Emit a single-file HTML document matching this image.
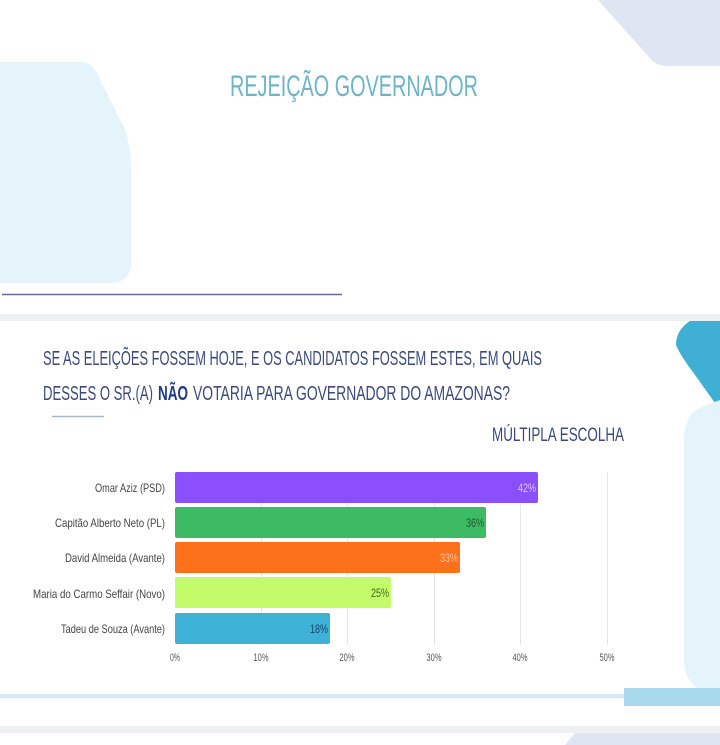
<!DOCTYPE html>
<html><head><meta charset="utf-8"><style>
html,body{margin:0;padding:0;background:#fff;}
svg{display:block;font-family:"Liberation Sans",sans-serif;}
</style></head><body>
<svg width="720" height="745" viewBox="0 0 720 745" xmlns="http://www.w3.org/2000/svg">
<rect width="720" height="745" fill="#fff"/>
<path d="M0 62 H80 Q92 62 98 75 L125 130 Q131 145 131 175 V262 Q131 283 110 283 H0 Z" fill="#e5f3fa"/>
<path d="M598 0 H720 V66 H668 Q655 66 648 56 Z" fill="#dfe5f2"/>
<text x="230" y="96" font-size="30" fill="#6eb4c9" textLength="248" lengthAdjust="spacingAndGlyphs" font-weight="300">REJEIÇÃO GOVERNADOR</text>
<line x1="2" y1="294.5" x2="342" y2="294.5" stroke="#5d6b98" stroke-width="1.5"/>
<rect x="0" y="314" width="720" height="7" fill="#eef0f2"/>
<path d="M690 321 H720 V410 L695 375 Q680 355 676 345 Q676 330 690 321 Z" fill="#3fb0d3"/>
<path d="M700 408 Q684 415 684 440 V660 Q684 680 700 690 H720 V400 Z" fill="#e5f3fa"/>
<text x="43" y="365" font-size="20" fill="#3b4a7c" textLength="499" lengthAdjust="spacingAndGlyphs">SE AS ELEIÇÕES FOSSEM HOJE, E OS CANDIDATOS FOSSEM ESTES, EM QUAIS</text>
<text x="43" y="400" font-size="20" fill="#3b4a7c" textLength="110" lengthAdjust="spacingAndGlyphs">DESSES O SR.(A)</text>
<text x="158" y="400" font-size="20" fill="#1f3a8a" font-weight="bold" textLength="30" lengthAdjust="spacingAndGlyphs">NÃO</text>
<text x="193" y="400" font-size="20" fill="#3b4a7c" textLength="317" lengthAdjust="spacingAndGlyphs">VOTARIA PARA GOVERNADOR DO AMAZONAS?</text>
<line x1="52" y1="416.5" x2="104" y2="416.5" stroke="#a9b8cc" stroke-width="1.5"/>
<text x="492" y="441" font-size="19" fill="#3b4a7c" textLength="132" lengthAdjust="spacingAndGlyphs">MÚLTIPLA ESCOLHA</text>
<g stroke="#e6e6e6" stroke-width="1">
<line x1="261.5" y1="472" x2="261.5" y2="645"/>
<line x1="347.5" y1="472" x2="347.5" y2="645"/>
<line x1="434.5" y1="472" x2="434.5" y2="645"/>
<line x1="520.5" y1="472" x2="520.5" y2="645"/>
<line x1="607.5" y1="472" x2="607.5" y2="645"/>
</g>
<rect x="175" y="472" width="363" height="31" rx="2" fill="#8b4fff"/>
<rect x="175" y="507" width="311" height="31" rx="2" fill="#3dba64"/>
<rect x="175" y="542" width="285" height="31" rx="2" fill="#fd711d"/>
<rect x="175" y="577" width="216" height="31" rx="2" fill="#c3fb6b"/>
<rect x="175" y="613" width="155" height="31" rx="2" fill="#3db2d6"/>
<g font-size="12" text-anchor="end">
<text x="536" y="492" fill="#d9c8ff" textLength="18" lengthAdjust="spacingAndGlyphs">42%</text>
<text x="484" y="527" fill="#1b5a2e" textLength="18" lengthAdjust="spacingAndGlyphs">36%</text>
<text x="458" y="562" fill="#ffc9a4" textLength="18" lengthAdjust="spacingAndGlyphs">33%</text>
<text x="389" y="597" fill="#3d6a14" textLength="18" lengthAdjust="spacingAndGlyphs">25%</text>
<text x="328" y="633" fill="#124a66" textLength="18" lengthAdjust="spacingAndGlyphs">18%</text>
</g>
<g font-size="12" fill="#444" text-anchor="end">
<text x="165" y="492" textLength="70" lengthAdjust="spacingAndGlyphs">Omar Aziz (PSD)</text>
<text x="165" y="527" textLength="110" lengthAdjust="spacingAndGlyphs">Capitão Alberto Neto (PL)</text>
<text x="165" y="562" textLength="100" lengthAdjust="spacingAndGlyphs">David Almeida (Avante)</text>
<text x="165" y="598" textLength="132" lengthAdjust="spacingAndGlyphs">Maria do Carmo Seffair (Novo)</text>
<text x="165" y="633" textLength="104" lengthAdjust="spacingAndGlyphs">Tadeu de Souza (Avante)</text>
</g>
<g font-size="11" fill="#555" text-anchor="middle">
<text x="175" y="661" textLength="10" lengthAdjust="spacingAndGlyphs">0%</text>
<text x="261" y="661" textLength="15" lengthAdjust="spacingAndGlyphs">10%</text>
<text x="347" y="661" textLength="15" lengthAdjust="spacingAndGlyphs">20%</text>
<text x="434" y="661" textLength="15" lengthAdjust="spacingAndGlyphs">30%</text>
<text x="520" y="661" textLength="15" lengthAdjust="spacingAndGlyphs">40%</text>
<text x="607" y="661" textLength="15" lengthAdjust="spacingAndGlyphs">50%</text>
</g>
<rect x="0" y="694" width="720" height="4" fill="#d4ebf5"/>
<rect x="624" y="688" width="96" height="18" fill="#a9d9ec"/>
<rect x="0" y="726" width="720" height="7" fill="#eef0f2"/>
<path d="M575 733 H720 V745 H565 Z" fill="#dfe5f2"/>
</svg>
</body></html>
